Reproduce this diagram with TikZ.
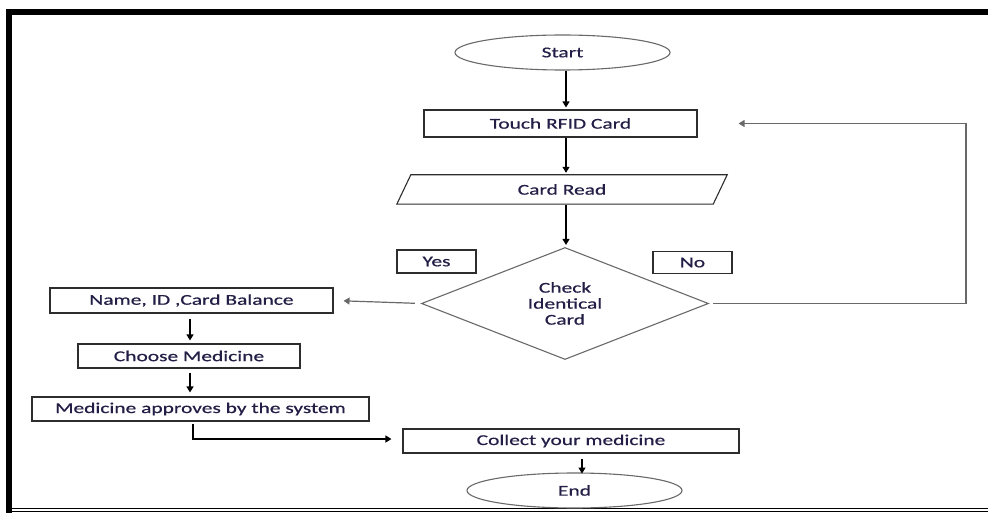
\documentclass[tikz,border=0pt]{standalone}
\usepackage{fontspec}
\setmainfont[FakeStretch=1.43, FakeBold=0.6]{Carlito}
\usepackage{tikz}
\usetikzlibrary{shapes.geometric, arrows.meta}
\definecolor{txt}{RGB}{35,30,70}
\definecolor{edge}{RGB}{45,45,45}
\definecolor{soft}{RGB}{105,105,105}

\begin{document}
\begin{tikzpicture}[x=1pt, y=-1pt,
    every node/.style={font=\fontsize{15}{16}\selectfont, text=txt},
    box/.style={draw=edge, line width=1.1pt, rectangle, inner sep=0pt},
    term/.style={draw=soft, line width=1.1pt, ellipse, inner sep=0pt, minimum width=215pt, minimum height=35pt},
    arr/.style={-{Triangle[length=6pt,width=7pt]}, line width=1.2pt},
  ]
  \useasboundingbox (0,0) rectangle (988,513);
  \draw[line width=6pt] (988,12) -- (9,12) -- (9,513);
  \draw[line width=1.1pt] (12,508.5) -- (988,508.5);
  \draw[line width=1.1pt] (12,511.5) -- (988,511.5);

  \node[term] (start) at (562.5,52.5) {Start};
  \node[box, minimum width=273pt, minimum height=27pt] (touch) at (560.5,123.5) {Touch RFID Card};
  \node[inner sep=0pt, minimum width=316pt, minimum height=29pt] (read) at (562,189.5) {Card Read};
  \draw[draw=edge, line width=1.1pt] ([xshift=-7pt]read.south west) -- ([xshift=7pt]read.north west)
      -- ([xshift=7pt]read.north east) -- ([xshift=-7pt]read.south east) -- cycle;
  \node[diamond, draw=soft, line width=1.1pt, minimum width=287pt, minimum height=112pt,
        inner sep=0pt, aspect=2.5, align=center] (check) at (565,303.5) {Check\\Identical\\Card};
  \node[box, minimum width=79pt, minimum height=23pt] (yes) at (436.5,261.5) {Yes};
  \node[box, minimum width=79pt, minimum height=22pt] (no) at (692.5,262.5) {No};
  \node[box, minimum width=283pt, minimum height=25pt] (name) at (191.5,300.5) {Name, ID ,Card Balance};
  \node[box, minimum width=222pt, minimum height=24pt] (choose) at (189,356) {Choose Medicine};
  \node[box, minimum width=337pt, minimum height=24pt] (approve) at (200.5,409) {Medicine approves by the system};
  \node[box, minimum width=336pt, minimum height=24pt] (collect) at (571,441) {Collect your medicine};
  \node[term] (end) at (574.5,490.5) {End};
  \coordinate (loop) at (966,123.5);

  \draw[arr, shorten >=2pt] ([xshift=3.5pt]start.south) -- ([xshift=5.5pt]touch.north);
  \draw[arr, shorten >=2pt] ([xshift=5.5pt]touch.south) -- ([xshift=4pt]read.north);
  \draw[arr, shorten <=1pt, shorten >=2pt] ([xshift=4pt]read.south) -- ([xshift=1pt]check.north);
  \draw[arr, draw=soft, shorten <=6pt, shorten >=10pt] (check.west) -- (name.east);
  \draw[arr, draw=soft, shorten <=4pt] (check.east) -| (loop) -- ([xshift=41pt]touch.east);
  \draw[arr, shorten <=5pt, shorten >=3pt] ([xshift=-1.5pt]name.south) -- ([xshift=1pt]choose.north);
  \draw[arr, shorten <=4pt, shorten >=4pt] ([xshift=1pt]choose.south) -- ([xshift=-10.5pt]approve.north);
  \draw[arr, shorten <=2pt] ([xshift=-7.5pt]approve.south) |- ([xshift=-11pt,yshift=2pt]collect.west);
  \draw[arr, shorten <=5pt] ([xshift=11pt]collect.south) -- ++(0,20);
\end{tikzpicture}
\end{document}
